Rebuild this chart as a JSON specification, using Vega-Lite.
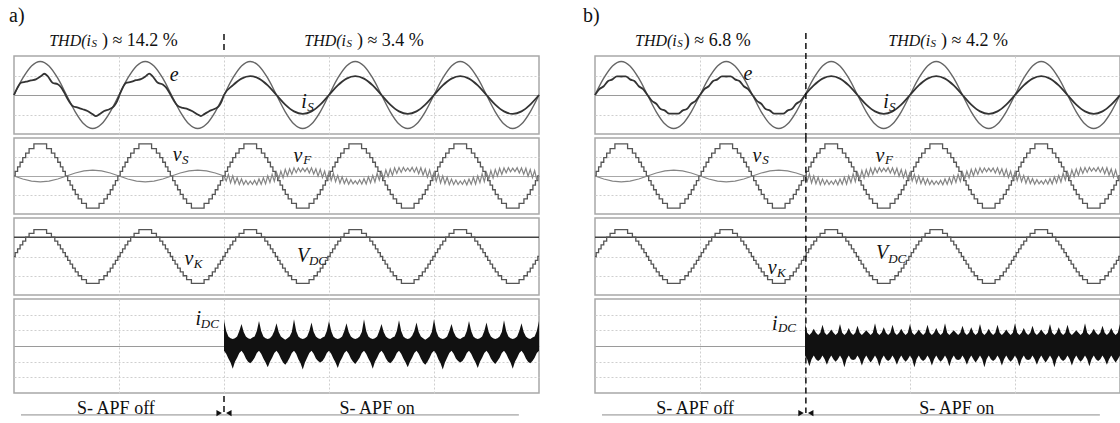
{
"$schema":"https://vega.github.io/schema/vega-lite/v6.json",
"autosize":{"type":"pad"},
"padding":{"left":8,"top":5,"right":0,"bottom":0},
"background":"white",
"spacing":38,
"config":{
 "view":{"stroke":"#a8a8a8","strokeWidth":1.5},
 "axis":{"grid":true,"labels":false,"ticks":false,"domain":false,"gridColor":"#cfcfcf","gridDash":[2,2],"gridWidth":1},
 "text":{"font":"Times New Roman, Liberation Serif, serif","color":"#111111"}
},
"datasets":{
"E":[{"t":0,"v":0},{"t":2,"v":0.86},{"t":4,"v":1.49},{"t":6,"v":1.72},{"t":8,"v":1.49},{"t":10,"v":0.86},{"t":12,"v":0},{"t":14,"v":-0.86},{"t":16,"v":-1.49},{"t":18,"v":-1.72},{"t":20,"v":-1.49},{"t":22,"v":-0.86},
{"t":24,"v":0},{"t":26,"v":0.86},{"t":28,"v":1.49},{"t":30,"v":1.72},{"t":32,"v":1.49},{"t":34,"v":0.86},{"t":36,"v":0},{"t":38,"v":-0.86},{"t":40,"v":-1.49},{"t":42,"v":-1.72},{"t":44,"v":-1.49},{"t":46,"v":-0.86},
{"t":48,"v":0},{"t":50,"v":0.86},{"t":52,"v":1.49},{"t":54,"v":1.72},{"t":56,"v":1.49},{"t":58,"v":0.86},{"t":60,"v":0},{"t":62,"v":-0.86},{"t":64,"v":-1.49},{"t":66,"v":-1.72},{"t":68,"v":-1.49},{"t":70,"v":-0.86},
{"t":72,"v":0},{"t":74,"v":0.86},{"t":76,"v":1.49},{"t":78,"v":1.72},{"t":80,"v":1.49},{"t":82,"v":0.86},{"t":84,"v":0},{"t":86,"v":-0.86},{"t":88,"v":-1.49},{"t":90,"v":-1.72},{"t":92,"v":-1.49},{"t":94,"v":-0.86},
{"t":96,"v":0},{"t":98,"v":0.86},{"t":100,"v":1.49},{"t":102,"v":1.72},{"t":104,"v":1.49},{"t":106,"v":0.86},{"t":108,"v":0},{"t":110,"v":-0.86},{"t":112,"v":-1.49},{"t":114,"v":-1.72},{"t":116,"v":-1.49},{"t":118,"v":-0.86},{"t":120,"v":0}],
"IA":[{"t":0,"v":0},{"t":0.8,"v":0.38},{"t":1.6,"v":0.63},{"t":2.7,"v":0.68},{"t":3.9,"v":0.75},{"t":5,"v":0.8},{"t":6.2,"v":0.97},{"t":6.9,"v":1.09},{"t":7.7,"v":0.97},{"t":8.8,"v":0.63},{"t":10,"v":0.55},{"t":10.7,"v":0.41},{"t":11.5,"v":0.12},{"t":12.3,"v":-0.22},{"t":13.4,"v":-0.56},{"t":14.6,"v":-0.65},{"t":15.7,"v":-0.73},{"t":16.8,"v":-0.82},{"t":18,"v":-0.99},{"t":18.7,"v":-1.08},{"t":19.5,"v":-0.99},{"t":20.6,"v":-0.82},{"t":21.8,"v":-0.73},{"t":22.9,"v":-0.56},{"t":23.6,"v":-0.3},
{"t":24.2,"v":0.05},{"t":24.9,"v":0.4},{"t":25.6,"v":0.62},{"t":26.7,"v":0.67},{"t":27.9,"v":0.76},{"t":29,"v":0.81},{"t":30.2,"v":0.98},{"t":30.9,"v":1.1},{"t":31.7,"v":0.96},{"t":32.8,"v":0.64},{"t":34,"v":0.54},{"t":34.7,"v":0.4},{"t":35.5,"v":0.13},{"t":36.3,"v":-0.2},{"t":37.4,"v":-0.55},{"t":38.6,"v":-0.66},{"t":39.7,"v":-0.72},{"t":40.8,"v":-0.83},{"t":42,"v":-1.0},{"t":42.7,"v":-1.08},{"t":43.5,"v":-0.98},{"t":44.6,"v":-0.83},{"t":45.8,"v":-0.72},{"t":46.9,"v":-0.55},{"t":47.5,"v":-0.3},
{"t":48,"v":0},{"t":50,"v":0.49},{"t":52,"v":0.84},{"t":54,"v":0.97},{"t":56,"v":0.84},{"t":58,"v":0.49},{"t":60,"v":0},{"t":62,"v":-0.49},{"t":64,"v":-0.84},{"t":66,"v":-0.97},{"t":68,"v":-0.84},{"t":70,"v":-0.49},
{"t":72,"v":0},{"t":74,"v":0.49},{"t":76,"v":0.84},{"t":78,"v":0.97},{"t":80,"v":0.84},{"t":82,"v":0.49},{"t":84,"v":0},{"t":86,"v":-0.49},{"t":88,"v":-0.84},{"t":90,"v":-0.97},{"t":92,"v":-0.84},{"t":94,"v":-0.49},
{"t":96,"v":0},{"t":98,"v":0.49},{"t":100,"v":0.84},{"t":102,"v":0.97},{"t":104,"v":0.84},{"t":106,"v":0.49},{"t":108,"v":0},{"t":110,"v":-0.49},{"t":112,"v":-0.84},{"t":114,"v":-0.97},{"t":116,"v":-0.84},{"t":118,"v":-0.49},{"t":120,"v":0}],
"IB":[{"t":0,"v":0},{"t":1,"v":0.3},{"t":2,"v":0.45},{"t":3,"v":0.72},{"t":4,"v":0.8},{"t":5,"v":0.96},{"t":6,"v":0.95},{"t":7,"v":0.96},{"t":8,"v":0.8},{"t":9,"v":0.72},{"t":10,"v":0.45},{"t":11,"v":0.3},{"t":12,"v":0},{"t":13,"v":-0.3},{"t":14,"v":-0.45},{"t":15,"v":-0.72},{"t":16,"v":-0.8},{"t":17,"v":-0.96},{"t":18,"v":-0.95},{"t":19,"v":-0.96},{"t":20,"v":-0.8},{"t":21,"v":-0.72},{"t":22,"v":-0.45},{"t":23,"v":-0.3},
{"t":24,"v":0},{"t":25,"v":0.3},{"t":26,"v":0.45},{"t":27,"v":0.72},{"t":28,"v":0.8},{"t":29,"v":0.96},{"t":30,"v":0.95},{"t":31,"v":0.96},{"t":32,"v":0.8},{"t":33,"v":0.72},{"t":34,"v":0.45},{"t":35,"v":0.3},{"t":36,"v":0},{"t":37,"v":-0.3},{"t":38,"v":-0.45},{"t":39,"v":-0.72},{"t":40,"v":-0.8},{"t":41,"v":-0.96},{"t":42,"v":-0.95},{"t":43,"v":-0.96},{"t":44,"v":-0.8},{"t":45,"v":-0.72},{"t":46,"v":-0.45},{"t":47,"v":-0.3},
{"t":48,"v":0},{"t":50,"v":0.49},{"t":52,"v":0.84},{"t":54,"v":0.97},{"t":56,"v":0.84},{"t":58,"v":0.49},{"t":60,"v":0},{"t":62,"v":-0.49},{"t":64,"v":-0.84},{"t":66,"v":-0.97},{"t":68,"v":-0.84},{"t":70,"v":-0.49},
{"t":72,"v":0},{"t":74,"v":0.49},{"t":76,"v":0.84},{"t":78,"v":0.97},{"t":80,"v":0.84},{"t":82,"v":0.49},{"t":84,"v":0},{"t":86,"v":-0.49},{"t":88,"v":-0.84},{"t":90,"v":-0.97},{"t":92,"v":-0.84},{"t":94,"v":-0.49},
{"t":96,"v":0},{"t":98,"v":0.49},{"t":100,"v":0.84},{"t":102,"v":0.97},{"t":104,"v":0.84},{"t":106,"v":0.49},{"t":108,"v":0},{"t":110,"v":-0.49},{"t":112,"v":-0.84},{"t":114,"v":-0.97},{"t":116,"v":-0.84},{"t":118,"v":-0.49},{"t":120,"v":0}],
"K":[{"t":0,"v":0},{"t":0.27,"v":1},{"t":0.82,"v":2},{"t":1.39,"v":3},{"t":2,"v":4},{"t":2.67,"v":5},{"t":3.45,"v":6},{"t":4.55,"v":7},{"t":7.45,"v":6},{"t":8.55,"v":5},{"t":9.33,"v":4},{"t":10,"v":3},{"t":10.61,"v":2},{"t":11.18,"v":1},{"t":11.73,"v":0},{"t":12.27,"v":-1},{"t":12.82,"v":-2},{"t":13.39,"v":-3},{"t":14,"v":-4},{"t":14.67,"v":-5},{"t":15.45,"v":-6},{"t":16.55,"v":-7},{"t":19.45,"v":-6},{"t":20.55,"v":-5},{"t":21.33,"v":-4},{"t":22,"v":-3},{"t":22.61,"v":-2},{"t":23.18,"v":-1},{"t":23.73,"v":0},
{"t":24.27,"v":1},{"t":24.82,"v":2},{"t":25.39,"v":3},{"t":26,"v":4},{"t":26.67,"v":5},{"t":27.45,"v":6},{"t":28.55,"v":7},{"t":31.45,"v":6},{"t":32.55,"v":5},{"t":33.33,"v":4},{"t":34,"v":3},{"t":34.61,"v":2},{"t":35.18,"v":1},{"t":35.73,"v":0},{"t":36.27,"v":-1},{"t":36.82,"v":-2},{"t":37.39,"v":-3},{"t":38,"v":-4},{"t":38.67,"v":-5},{"t":39.45,"v":-6},{"t":40.55,"v":-7},{"t":43.45,"v":-6},{"t":44.55,"v":-5},{"t":45.33,"v":-4},{"t":46,"v":-3},{"t":46.61,"v":-2},{"t":47.18,"v":-1},{"t":47.73,"v":0},
{"t":48.27,"v":1},{"t":48.82,"v":2},{"t":49.39,"v":3},{"t":50,"v":4},{"t":50.67,"v":5},{"t":51.45,"v":6},{"t":52.55,"v":7},{"t":55.45,"v":6},{"t":56.55,"v":5},{"t":57.33,"v":4},{"t":58,"v":3},{"t":58.61,"v":2},{"t":59.18,"v":1},{"t":59.73,"v":0},{"t":60.27,"v":-1},{"t":60.82,"v":-2},{"t":61.39,"v":-3},{"t":62,"v":-4},{"t":62.67,"v":-5},{"t":63.45,"v":-6},{"t":64.55,"v":-7},{"t":67.45,"v":-6},{"t":68.55,"v":-5},{"t":69.33,"v":-4},{"t":70,"v":-3},{"t":70.61,"v":-2},{"t":71.18,"v":-1},{"t":71.73,"v":0},
{"t":72.27,"v":1},{"t":72.82,"v":2},{"t":73.39,"v":3},{"t":74,"v":4},{"t":74.67,"v":5},{"t":75.45,"v":6},{"t":76.55,"v":7},{"t":79.45,"v":6},{"t":80.55,"v":5},{"t":81.33,"v":4},{"t":82,"v":3},{"t":82.61,"v":2},{"t":83.18,"v":1},{"t":83.73,"v":0},{"t":84.27,"v":-1},{"t":84.82,"v":-2},{"t":85.39,"v":-3},{"t":86,"v":-4},{"t":86.67,"v":-5},{"t":87.45,"v":-6},{"t":88.55,"v":-7},{"t":91.45,"v":-6},{"t":92.55,"v":-5},{"t":93.33,"v":-4},{"t":94,"v":-3},{"t":94.61,"v":-2},{"t":95.18,"v":-1},{"t":95.73,"v":0},
{"t":96.27,"v":1},{"t":96.82,"v":2},{"t":97.39,"v":3},{"t":98,"v":4},{"t":98.67,"v":5},{"t":99.45,"v":6},{"t":100.55,"v":7},{"t":103.45,"v":6},{"t":104.55,"v":5},{"t":105.33,"v":4},{"t":106,"v":3},{"t":106.61,"v":2},{"t":107.18,"v":1},{"t":107.73,"v":0},{"t":108.27,"v":-1},{"t":108.82,"v":-2},{"t":109.39,"v":-3},{"t":110,"v":-4},{"t":110.67,"v":-5},{"t":111.45,"v":-6},{"t":112.55,"v":-7},{"t":115.45,"v":-6},{"t":116.55,"v":-5},{"t":117.33,"v":-4},{"t":118,"v":-3},{"t":118.61,"v":-2},{"t":119.18,"v":-1},{"t":119.73,"v":0},{"t":120,"v":0}],
"VD":[{"t":0,"v":5},{"t":120,"v":5}],
"SA":[{"t":0,"v":0},{"t":2,"v":-0.65},{"t":4,"v":-1.13},{"t":6,"v":-1.3},{"t":8,"v":-1.13},{"t":10,"v":-0.65},{"t":12,"v":0},{"t":14,"v":0.65},{"t":16,"v":1.13},{"t":18,"v":1.3},{"t":20,"v":1.13},{"t":22,"v":0.65},{"t":24,"v":0},{"t":26,"v":-0.65},{"t":28,"v":-1.13},{"t":30,"v":-1.3},{"t":32,"v":-1.13},{"t":34,"v":-0.65},{"t":36,"v":0},{"t":38,"v":0.65},{"t":40,"v":1.13},{"t":42,"v":1.3},{"t":44,"v":1.13},{"t":46,"v":0.65},{"t":48,"v":0},
{"t":48.5,"v":-1.08},{"t":49,"v":0.34},{"t":49.5,"v":-1.49},{"t":50,"v":0.05},{"t":50.5,"v":-1.64},{"t":51,"v":-0.4},{"t":51.5,"v":-1.86},{"t":52,"v":-0.64},{"t":52.5,"v":-1.85},{"t":53,"v":-0.96},{"t":53.5,"v":-1.85},{"t":54,"v":-1.09},{"t":54.5,"v":-1.81},{"t":55,"v":-0.96},{"t":55.5,"v":-1.91},{"t":56,"v":-0.64},{"t":56.5,"v":-1.79},{"t":57,"v":-0.4},{"t":57.5,"v":-1.72},{"t":58,"v":0.05},{"t":58.5,"v":-1.4},{"t":59,"v":0.34},{"t":59.5,"v":-1.17},{"t":60,"v":0.81},{"t":60.5,"v":-0.72},{"t":61,"v":1.06},{"t":61.5,"v":-0.41},{"t":62,"v":1.45},{"t":62.5,"v":0.06},{"t":63,"v":1.58},{"t":63.5,"v":0.36},{"t":64,"v":1.78},{"t":64.5,"v":0.73},{"t":65,"v":1.74},{"t":65.5,"v":0.93},{"t":66,"v":1.72},{"t":66.5,"v":0.97},{"t":67,"v":1.74},{"t":67.5,"v":0.67},{"t":68,"v":1.78},{"t":68.5,"v":0.43},{"t":69,"v":1.58},{"t":69.5,"v":-0.02},{"t":70,"v":1.45},{"t":70.5,"v":-0.32},{"t":71,"v":1.06},{"t":71.5,"v":-0.81},
{"t":72,"v":0.9},{"t":72.5,"v":-0.99},{"t":73,"v":0.61},{"t":73.5,"v":-1.23},{"t":74,"v":0.13},{"t":74.5,"v":-1.56},{"t":75,"v":-0.18},{"t":75.5,"v":-1.65},{"t":76,"v":-0.58},{"t":76.5,"v":-1.79},{"t":77,"v":-0.81},{"t":77.5,"v":-1.73},{"t":78,"v":-1.05},{"t":78.5,"v":-1.77},{"t":79,"v":-0.81},{"t":79.5,"v":-1.74},{"t":80,"v":-0.58},{"t":80.5,"v":-1.72},{"t":81,"v":-0.18},{"t":81.5,"v":-1.48},{"t":82,"v":0.13},{"t":82.5,"v":-1.31},{"t":83,"v":0.61},{"t":83.5,"v":-0.9},{"t":84,"v":0.9},{"t":84.5,"v":-0.63},{"t":85,"v":1.33},{"t":85.5,"v":-0.15},{"t":86,"v":1.53},{"t":86.5,"v":0.14},{"t":87,"v":1.8},{"t":87.5,"v":0.57},{"t":88,"v":1.84},{"t":88.5,"v":0.79},{"t":89,"v":1.89},{"t":89.5,"v":1.05},{"t":90,"v":1.75},{"t":90.5,"v":1.01},{"t":91,"v":1.89},{"t":91.5,"v":0.84},{"t":92,"v":1.84},{"t":92.5,"v":0.5},{"t":93,"v":1.8},{"t":93.5,"v":0.22},{"t":94,"v":1.53},{"t":94.5,"v":-0.23},{"t":95,"v":1.33},{"t":95.5,"v":-0.54},
{"t":96,"v":0.77},{"t":96.5,"v":-1.13},{"t":97,"v":0.48},{"t":97.5,"v":-1.53},{"t":98,"v":0.01},{"t":98.5,"v":-1.68},{"t":99,"v":-0.29},{"t":99.5,"v":-1.89},{"t":100,"v":-0.67},{"t":100.5,"v":-1.88},{"t":101,"v":-0.88},{"t":101.5,"v":-1.87},{"t":102,"v":-1.1},{"t":102.5,"v":-1.83},{"t":103,"v":-0.88},{"t":103.5,"v":-1.93},{"t":104,"v":-0.67},{"t":104.5,"v":-1.82},{"t":105,"v":-0.29},{"t":105.5,"v":-1.76},{"t":106,"v":0.01},{"t":106.5,"v":-1.44},{"t":107,"v":0.48},{"t":107.5,"v":-1.22},{"t":108,"v":0.77},{"t":108.5,"v":-0.77},{"t":109,"v":1.2},{"t":109.5,"v":-0.45},{"t":110,"v":1.41},{"t":110.5,"v":0.02},{"t":111,"v":1.69},{"t":111.5,"v":0.33},{"t":112,"v":1.75},{"t":112.5,"v":0.7},{"t":113,"v":1.82},{"t":113.5,"v":0.91},{"t":114,"v":1.7},{"t":114.5,"v":0.95},{"t":115,"v":1.82},{"t":115.5,"v":0.65},{"t":116,"v":1.75},{"t":116.5,"v":0.4},{"t":117,"v":1.69},{"t":117.5,"v":-0.06},{"t":118,"v":1.41},{"t":118.5,"v":-0.36},{"t":119,"v":1.2},{"t":119.5,"v":-0.86},{"t":120,"v":0}],
"SB":[{"t":0,"v":0},{"t":2,"v":-0.65},{"t":4,"v":-1.13},{"t":6,"v":-1.3},{"t":8,"v":-1.13},{"t":10,"v":-0.65},{"t":12,"v":0},{"t":14,"v":0.65},{"t":16,"v":1.13},{"t":18,"v":1.3},{"t":20,"v":1.13},{"t":22,"v":0.65},{"t":24,"v":0},{"t":26,"v":-0.65},{"t":28,"v":-1.13},{"t":30,"v":-1.3},{"t":32,"v":-1.13},{"t":34,"v":-0.65},{"t":36,"v":0},{"t":38,"v":0.65},{"t":40,"v":1.13},{"t":42,"v":1.3},{"t":44,"v":1.13},{"t":46,"v":0.65},{"t":48,"v":0},
{"t":48.5,"v":-1.13},{"t":49,"v":0.48},{"t":49.5,"v":-1.53},{"t":50,"v":0.01},{"t":50.5,"v":-1.68},{"t":51,"v":-0.29},{"t":51.5,"v":-1.89},{"t":52,"v":-0.67},{"t":52.5,"v":-1.88},{"t":53,"v":-0.88},{"t":53.5,"v":-1.87},{"t":54,"v":-1.1},{"t":54.5,"v":-1.83},{"t":55,"v":-0.88},{"t":55.5,"v":-1.93},{"t":56,"v":-0.67},{"t":56.5,"v":-1.82},{"t":57,"v":-0.29},{"t":57.5,"v":-1.76},{"t":58,"v":0.01},{"t":58.5,"v":-1.44},{"t":59,"v":0.48},{"t":59.5,"v":-1.22},{"t":60,"v":0.77},{"t":60.5,"v":-0.77},{"t":61,"v":1.2},{"t":61.5,"v":-0.45},{"t":62,"v":1.41},{"t":62.5,"v":0.02},{"t":63,"v":1.69},{"t":63.5,"v":0.33},{"t":64,"v":1.75},{"t":64.5,"v":0.7},{"t":65,"v":1.82},{"t":65.5,"v":0.91},{"t":66,"v":1.7},{"t":66.5,"v":0.95},{"t":67,"v":1.82},{"t":67.5,"v":0.65},{"t":68,"v":1.75},{"t":68.5,"v":0.4},{"t":69,"v":1.69},{"t":69.5,"v":-0.06},{"t":70,"v":1.41},{"t":70.5,"v":-0.36},{"t":71,"v":1.2},{"t":71.5,"v":-0.86},
{"t":72,"v":0.9},{"t":72.5,"v":-1.08},{"t":73,"v":0.34},{"t":73.5,"v":-1.49},{"t":74,"v":0.05},{"t":74.5,"v":-1.64},{"t":75,"v":-0.4},{"t":75.5,"v":-1.86},{"t":76,"v":-0.64},{"t":76.5,"v":-1.85},{"t":77,"v":-0.96},{"t":77.5,"v":-1.85},{"t":78,"v":-1.09},{"t":78.5,"v":-1.81},{"t":79,"v":-0.96},{"t":79.5,"v":-1.91},{"t":80,"v":-0.64},{"t":80.5,"v":-1.79},{"t":81,"v":-0.4},{"t":81.5,"v":-1.72},{"t":82,"v":0.05},{"t":82.5,"v":-1.4},{"t":83,"v":0.34},{"t":83.5,"v":-1.17},{"t":84,"v":0.81},{"t":84.5,"v":-0.72},{"t":85,"v":1.06},{"t":85.5,"v":-0.41},{"t":86,"v":1.45},{"t":86.5,"v":0.06},{"t":87,"v":1.58},{"t":87.5,"v":0.36},{"t":88,"v":1.78},{"t":88.5,"v":0.73},{"t":89,"v":1.74},{"t":89.5,"v":0.93},{"t":90,"v":1.72},{"t":90.5,"v":0.97},{"t":91,"v":1.74},{"t":91.5,"v":0.67},{"t":92,"v":1.78},{"t":92.5,"v":0.43},{"t":93,"v":1.58},{"t":93.5,"v":-0.02},{"t":94,"v":1.45},{"t":94.5,"v":-0.32},{"t":95,"v":1.06},{"t":95.5,"v":-0.81},
{"t":96,"v":0.9},{"t":96.5,"v":-0.99},{"t":97,"v":0.61},{"t":97.5,"v":-1.23},{"t":98,"v":0.13},{"t":98.5,"v":-1.56},{"t":99,"v":-0.18},{"t":99.5,"v":-1.65},{"t":100,"v":-0.58},{"t":100.5,"v":-1.79},{"t":101,"v":-0.81},{"t":101.5,"v":-1.73},{"t":102,"v":-1.05},{"t":102.5,"v":-1.77},{"t":103,"v":-0.81},{"t":103.5,"v":-1.74},{"t":104,"v":-0.58},{"t":104.5,"v":-1.72},{"t":105,"v":-0.18},{"t":105.5,"v":-1.48},{"t":106,"v":0.13},{"t":106.5,"v":-1.31},{"t":107,"v":0.61},{"t":107.5,"v":-0.9},{"t":108,"v":0.9},{"t":108.5,"v":-0.63},{"t":109,"v":1.33},{"t":109.5,"v":-0.15},{"t":110,"v":1.53},{"t":110.5,"v":0.14},{"t":111,"v":1.8},{"t":111.5,"v":0.57},{"t":112,"v":1.84},{"t":112.5,"v":0.79},{"t":113,"v":1.89},{"t":113.5,"v":1.05},{"t":114,"v":1.75},{"t":114.5,"v":1.01},{"t":115,"v":1.89},{"t":115.5,"v":0.84},{"t":116,"v":1.84},{"t":116.5,"v":0.5},{"t":117,"v":1.8},{"t":117.5,"v":0.22},{"t":118,"v":1.53},{"t":118.5,"v":-0.23},{"t":119,"v":1.33},{"t":119.5,"v":-0.54},{"t":120,"v":0}],
"IDA":[{"t":48,"v":1.65,"l":-0.3},{"t":48.5,"v":0.95,"l":-0.5},{"t":49,"v":0.6,"l":-0.8},{"t":49.5,"v":0.5,"l":-1.05},{"t":50,"v":0.45,"l":-1.45},{"t":50.5,"v":0.5,"l":-1.0},{"t":51,"v":0.6,"l":-0.75},{"t":51.5,"v":0.95,"l":-0.45},
{"t":52,"v":1.4,"l":-0.3},{"t":52.5,"v":0.9,"l":-0.5},{"t":53,"v":0.6,"l":-0.8},{"t":53.5,"v":0.5,"l":-1.0},{"t":54,"v":0.45,"l":-1.1},{"t":54.5,"v":0.55,"l":-0.95},{"t":55,"v":0.6,"l":-0.75},{"t":55.5,"v":0.95,"l":-0.45},
{"t":56,"v":1.6,"l":-0.3},{"t":56.5,"v":0.95,"l":-0.5},{"t":57,"v":0.6,"l":-0.8},{"t":57.5,"v":0.5,"l":-1.05},{"t":58,"v":0.45,"l":-1.35},{"t":58.5,"v":0.5,"l":-1.0},{"t":59,"v":0.65,"l":-0.75},{"t":59.5,"v":0.95,"l":-0.45},
{"t":60,"v":1.45,"l":-0.3},{"t":60.5,"v":0.9,"l":-0.5},{"t":61,"v":0.6,"l":-0.8},{"t":61.5,"v":0.5,"l":-1.05},{"t":62,"v":0.4,"l":-1.2},{"t":62.5,"v":0.5,"l":-1.0},{"t":63,"v":0.6,"l":-0.75},{"t":63.5,"v":0.9,"l":-0.45},
{"t":64,"v":1.7,"l":-0.3},{"t":64.5,"v":0.95,"l":-0.5},{"t":65,"v":0.6,"l":-0.85},{"t":65.5,"v":0.5,"l":-1.1},{"t":66,"v":0.45,"l":-1.5},{"t":66.5,"v":0.5,"l":-1.05},{"t":67,"v":0.6,"l":-0.75},{"t":67.5,"v":0.95,"l":-0.45},
{"t":68,"v":1.5,"l":-0.3},{"t":68.5,"v":0.9,"l":-0.5},{"t":69,"v":0.6,"l":-0.8},{"t":69.5,"v":0.5,"l":-0.95},{"t":70,"v":0.45,"l":-1.05},{"t":70.5,"v":0.55,"l":-0.95},{"t":71,"v":0.6,"l":-0.75},{"t":71.5,"v":0.95,"l":-0.45},
{"t":72,"v":1.6,"l":-0.3},{"t":72.5,"v":0.95,"l":-0.5},{"t":73,"v":0.6,"l":-0.8},{"t":73.5,"v":0.5,"l":-1.05},{"t":74,"v":0.45,"l":-1.4},{"t":74.5,"v":0.5,"l":-1.0},{"t":75,"v":0.6,"l":-0.75},{"t":75.5,"v":0.95,"l":-0.45},
{"t":76,"v":1.45,"l":-0.3},{"t":76.5,"v":0.9,"l":-0.5},{"t":77,"v":0.6,"l":-0.8},{"t":77.5,"v":0.5,"l":-1.0},{"t":78,"v":0.45,"l":-1.15},{"t":78.5,"v":0.5,"l":-0.95},{"t":79,"v":0.6,"l":-0.75},{"t":79.5,"v":0.9,"l":-0.45},
{"t":80,"v":1.7,"l":-0.3},{"t":80.5,"v":0.95,"l":-0.5},{"t":81,"v":0.6,"l":-0.8},{"t":81.5,"v":0.5,"l":-1.05},{"t":82,"v":0.45,"l":-1.45},{"t":82.5,"v":0.5,"l":-1.0},{"t":83,"v":0.6,"l":-0.75},{"t":83.5,"v":0.95,"l":-0.45},
{"t":84,"v":1.4,"l":-0.3},{"t":84.5,"v":0.9,"l":-0.5},{"t":85,"v":0.6,"l":-0.8},{"t":85.5,"v":0.5,"l":-1.0},{"t":86,"v":0.45,"l":-1.1},{"t":86.5,"v":0.55,"l":-0.95},{"t":87,"v":0.6,"l":-0.75},{"t":87.5,"v":0.95,"l":-0.45},
{"t":88,"v":1.65,"l":-0.3},{"t":88.5,"v":0.95,"l":-0.5},{"t":89,"v":0.6,"l":-0.8},{"t":89.5,"v":0.5,"l":-1.05},{"t":90,"v":0.45,"l":-1.35},{"t":90.5,"v":0.5,"l":-1.0},{"t":91,"v":0.65,"l":-0.75},{"t":91.5,"v":0.95,"l":-0.45},
{"t":92,"v":1.5,"l":-0.3},{"t":92.5,"v":0.9,"l":-0.5},{"t":93,"v":0.6,"l":-0.8},{"t":93.5,"v":0.5,"l":-1.05},{"t":94,"v":0.4,"l":-1.2},{"t":94.5,"v":0.5,"l":-1.0},{"t":95,"v":0.6,"l":-0.75},{"t":95.5,"v":0.9,"l":-0.45},
{"t":96,"v":1.7,"l":-0.3},{"t":96.5,"v":0.95,"l":-0.5},{"t":97,"v":0.6,"l":-0.85},{"t":97.5,"v":0.5,"l":-1.1},{"t":98,"v":0.45,"l":-1.5},{"t":98.5,"v":0.5,"l":-1.05},{"t":99,"v":0.6,"l":-0.75},{"t":99.5,"v":0.95,"l":-0.45},
{"t":100,"v":1.4,"l":-0.3},{"t":100.5,"v":0.9,"l":-0.5},{"t":101,"v":0.6,"l":-0.8},{"t":101.5,"v":0.5,"l":-0.95},{"t":102,"v":0.45,"l":-1.05},{"t":102.5,"v":0.55,"l":-0.95},{"t":103,"v":0.6,"l":-0.75},{"t":103.5,"v":0.95,"l":-0.45},
{"t":104,"v":1.6,"l":-0.3},{"t":104.5,"v":0.95,"l":-0.5},{"t":105,"v":0.6,"l":-0.8},{"t":105.5,"v":0.5,"l":-1.05},{"t":106,"v":0.45,"l":-1.4},{"t":106.5,"v":0.5,"l":-1.0},{"t":107,"v":0.6,"l":-0.75},{"t":107.5,"v":0.95,"l":-0.45},
{"t":108,"v":1.5,"l":-0.3},{"t":108.5,"v":0.9,"l":-0.5},{"t":109,"v":0.6,"l":-0.8},{"t":109.5,"v":0.5,"l":-1.0},{"t":110,"v":0.45,"l":-1.15},{"t":110.5,"v":0.5,"l":-0.95},{"t":111,"v":0.6,"l":-0.75},{"t":111.5,"v":0.9,"l":-0.45},
{"t":112,"v":1.65,"l":-0.3},{"t":112.5,"v":0.95,"l":-0.5},{"t":113,"v":0.6,"l":-0.8},{"t":113.5,"v":0.5,"l":-1.05},{"t":114,"v":0.45,"l":-1.45},{"t":114.5,"v":0.5,"l":-1.0},{"t":115,"v":0.6,"l":-0.75},{"t":115.5,"v":0.95,"l":-0.45},
{"t":116,"v":1.45,"l":-0.3},{"t":116.5,"v":0.9,"l":-0.5},{"t":117,"v":0.6,"l":-0.8},{"t":117.5,"v":0.5,"l":-1.0},{"t":118,"v":0.45,"l":-1.1},{"t":118.5,"v":0.55,"l":-0.95},{"t":119,"v":0.6,"l":-0.75},{"t":119.5,"v":0.95,"l":-0.45},{"t":120,"v":1.6,"l":-0.3}],
"IDB":[{"t":48,"v":1.45,"l":-0.6},{"t":48.5,"v":0.85,"l":-0.85},{"t":49,"v":0.7,"l":-1.3},{"t":49.5,"v":0.85,"l":-0.85},
{"t":50,"v":1.1,"l":-0.6},{"t":50.5,"v":0.85,"l":-0.85},{"t":51,"v":0.7,"l":-0.95},{"t":51.5,"v":0.85,"l":-0.85},
{"t":52,"v":1.35,"l":-0.6},{"t":52.5,"v":0.85,"l":-0.85},{"t":53,"v":0.7,"l":-1.2},{"t":53.5,"v":0.85,"l":-0.85},
{"t":54,"v":1.05,"l":-0.6},{"t":54.5,"v":0.85,"l":-0.85},{"t":55,"v":0.7,"l":-1.0},{"t":55.5,"v":0.85,"l":-0.85},
{"t":56,"v":1.4,"l":-0.6},{"t":56.5,"v":0.85,"l":-0.85},{"t":57,"v":0.7,"l":-1.35},{"t":57.5,"v":0.85,"l":-0.85},
{"t":58,"v":1.15,"l":-0.6},{"t":58.5,"v":0.85,"l":-0.85},{"t":59,"v":0.7,"l":-0.9},{"t":59.5,"v":0.85,"l":-0.85},
{"t":60,"v":1.3,"l":-0.6},{"t":60.5,"v":0.85,"l":-0.85},{"t":61,"v":0.7,"l":-1.25},{"t":61.5,"v":0.85,"l":-0.85},
{"t":62,"v":1.0,"l":-0.6},{"t":62.5,"v":0.85,"l":-0.85},{"t":63,"v":0.7,"l":-1.05},{"t":63.5,"v":0.85,"l":-0.85},
{"t":64,"v":1.45,"l":-0.6},{"t":64.5,"v":0.85,"l":-0.85},{"t":65,"v":0.7,"l":-1.3},{"t":65.5,"v":0.85,"l":-0.85},
{"t":66,"v":1.2,"l":-0.6},{"t":66.5,"v":0.85,"l":-0.85},{"t":67,"v":0.7,"l":-0.95},{"t":67.5,"v":0.85,"l":-0.85},
{"t":68,"v":1.35,"l":-0.6},{"t":68.5,"v":0.85,"l":-0.85},{"t":69,"v":0.7,"l":-1.2},{"t":69.5,"v":0.85,"l":-0.85},
{"t":70,"v":1.1,"l":-0.6},{"t":70.5,"v":0.85,"l":-0.85},{"t":71,"v":0.7,"l":-1.0},{"t":71.5,"v":0.85,"l":-0.85},
{"t":72,"v":1.4,"l":-0.6},{"t":72.5,"v":0.85,"l":-0.85},{"t":73,"v":0.7,"l":-1.35},{"t":73.5,"v":0.85,"l":-0.85},
{"t":74,"v":1.05,"l":-0.6},{"t":74.5,"v":0.85,"l":-0.85},{"t":75,"v":0.7,"l":-0.95},{"t":75.5,"v":0.85,"l":-0.85},
{"t":76,"v":1.35,"l":-0.6},{"t":76.5,"v":0.85,"l":-0.85},{"t":77,"v":0.7,"l":-1.25},{"t":77.5,"v":0.85,"l":-0.85},
{"t":78,"v":1.15,"l":-0.6},{"t":78.5,"v":0.85,"l":-0.85},{"t":79,"v":0.7,"l":-1.0},{"t":79.5,"v":0.85,"l":-0.85},
{"t":80,"v":1.45,"l":-0.6},{"t":80.5,"v":0.85,"l":-0.85},{"t":81,"v":0.7,"l":-1.3},{"t":81.5,"v":0.85,"l":-0.85},
{"t":82,"v":1.0,"l":-0.6},{"t":82.5,"v":0.85,"l":-0.85},{"t":83,"v":0.7,"l":-0.9},{"t":83.5,"v":0.85,"l":-0.85},
{"t":84,"v":1.3,"l":-0.6},{"t":84.5,"v":0.85,"l":-0.85},{"t":85,"v":0.7,"l":-1.2},{"t":85.5,"v":0.85,"l":-0.85},
{"t":86,"v":1.2,"l":-0.6},{"t":86.5,"v":0.85,"l":-0.85},{"t":87,"v":0.7,"l":-1.05},{"t":87.5,"v":0.85,"l":-0.85},
{"t":88,"v":1.4,"l":-0.6},{"t":88.5,"v":0.85,"l":-0.85},{"t":89,"v":0.7,"l":-1.35},{"t":89.5,"v":0.85,"l":-0.85},
{"t":90,"v":1.1,"l":-0.6},{"t":90.5,"v":0.85,"l":-0.85},{"t":91,"v":0.7,"l":-0.95},{"t":91.5,"v":0.85,"l":-0.85},
{"t":92,"v":1.35,"l":-0.6},{"t":92.5,"v":0.85,"l":-0.85},{"t":93,"v":0.7,"l":-1.25},{"t":93.5,"v":0.85,"l":-0.85},
{"t":94,"v":1.05,"l":-0.6},{"t":94.5,"v":0.85,"l":-0.85},{"t":95,"v":0.7,"l":-1.0},{"t":95.5,"v":0.85,"l":-0.85},
{"t":96,"v":1.45,"l":-0.6},{"t":96.5,"v":0.85,"l":-0.85},{"t":97,"v":0.7,"l":-1.3},{"t":97.5,"v":0.85,"l":-0.85},
{"t":98,"v":1.15,"l":-0.6},{"t":98.5,"v":0.85,"l":-0.85},{"t":99,"v":0.7,"l":-0.9},{"t":99.5,"v":0.85,"l":-0.85},
{"t":100,"v":1.3,"l":-0.6},{"t":100.5,"v":0.85,"l":-0.85},{"t":101,"v":0.7,"l":-1.2},{"t":101.5,"v":0.85,"l":-0.85},
{"t":102,"v":1.05,"l":-0.6},{"t":102.5,"v":0.85,"l":-0.85},{"t":103,"v":0.7,"l":-1.05},{"t":103.5,"v":0.85,"l":-0.85},
{"t":104,"v":1.4,"l":-0.6},{"t":104.5,"v":0.85,"l":-0.85},{"t":105,"v":0.7,"l":-1.35},{"t":105.5,"v":0.85,"l":-0.85},
{"t":106,"v":1.2,"l":-0.6},{"t":106.5,"v":0.85,"l":-0.85},{"t":107,"v":0.7,"l":-0.95},{"t":107.5,"v":0.85,"l":-0.85},
{"t":108,"v":1.35,"l":-0.6},{"t":108.5,"v":0.85,"l":-0.85},{"t":109,"v":0.7,"l":-1.25},{"t":109.5,"v":0.85,"l":-0.85},
{"t":110,"v":1.0,"l":-0.6},{"t":110.5,"v":0.85,"l":-0.85},{"t":111,"v":0.7,"l":-1.0},{"t":111.5,"v":0.85,"l":-0.85},
{"t":112,"v":1.45,"l":-0.6},{"t":112.5,"v":0.85,"l":-0.85},{"t":113,"v":0.7,"l":-1.3},{"t":113.5,"v":0.85,"l":-0.85},
{"t":114,"v":1.1,"l":-0.6},{"t":114.5,"v":0.85,"l":-0.85},{"t":115,"v":0.7,"l":-0.95},{"t":115.5,"v":0.85,"l":-0.85},
{"t":116,"v":1.3,"l":-0.6},{"t":116.5,"v":0.85,"l":-0.85},{"t":117,"v":0.7,"l":-1.2},{"t":117.5,"v":0.85,"l":-0.85},
{"t":118,"v":1.15,"l":-0.6},{"t":118.5,"v":0.85,"l":-0.85},{"t":119,"v":0.7,"l":-1.05},{"t":119.5,"v":0.85,"l":-0.85},{"t":120,"v":1.4,"l":-0.6}],
"D1a":[{"t":48,"v":3.13,"v2":2.15}],
"D4a":[{"t":48,"v":-3.19,"v2":-4.28}],
"D1b":[{"t":48.2,"v":3.18,"v2":-2.15}],
"D2b":[{"t":48.2,"v":8.6,"v2":-8.6}],
"D3b":[{"t":48.2,"v":10.6,"v2":-10.6}],
"D4b":[{"t":48.2,"v":3.1,"v2":-4.28}],
"LN":[{"t":1.6,"t2":115.4,"v":-4.4}],
"ARa":[{"t":46.9,"v":-4.28,"d":"r"},{"t":49.1,"v":-4.28,"d":"l"}],
"ARb":[{"t":47.1,"v":-4.28,"d":"r"},{"t":49.3,"v":-4.28,"d":"l"}],
"T1a":[{"t":-1.14,"v":4.05,"k":"h","s":"a)"},{"t":17.6,"v":2.77,"k":"r","s":"THD(i"},{"t":17.7,"v":2.6,"k":"b","s":"S"},{"t":20.1,"v":2.77,"k":"u","s":") ≈ 14.2 %"},{"t":75.9,"v":2.77,"k":"r","s":"THD(i"},{"t":76.0,"v":2.6,"k":"b","s":"S"},{"t":78.4,"v":2.77,"k":"u","s":") ≈ 3.4 %"},{"t":36.6,"v":1.03,"k":"m","s":"e"},{"t":66.3,"v":-0.36,"k":"m","s":"i"},{"t":67.0,"v":-0.62,"k":"s","s":"S"}],
"T1b":[{"t":-2.74,"v":4.05,"k":"h","s":"b)"},{"t":18.7,"v":2.77,"k":"r","s":"THD(i"},{"t":18.8,"v":2.6,"k":"b","s":"S"},{"t":20.3,"v":2.77,"k":"u","s":") ≈ 6.8 %"},{"t":76.6,"v":2.77,"k":"r","s":"THD(i"},{"t":76.7,"v":2.6,"k":"b","s":"S"},{"t":79.1,"v":2.77,"k":"u","s":") ≈ 4.2 %"},{"t":34.97,"v":1.08,"k":"m","s":"e"},{"t":66.5,"v":-0.36,"k":"m","s":"i"},{"t":67.2,"v":-0.62,"k":"s","s":"S"}],
"T2a":[{"t":37.3,"v":4.59,"k":"m","s":"v"},{"t":38.4,"v":3.5,"k":"s","s":"S"},{"t":64.9,"v":4.37,"k":"m","s":"v"},{"t":66.1,"v":3.5,"k":"s","s":"F"}],
"T2b":[{"t":37.0,"v":4.37,"k":"m","s":"v"},{"t":38.2,"v":3.5,"k":"s","s":"S"},{"t":65.1,"v":4.37,"k":"m","s":"v"},{"t":66.3,"v":3.5,"k":"s","s":"F"}],
"T3a":[{"t":40.0,"v":-0.65,"k":"m","s":"v"},{"t":41.1,"v":-1.95,"k":"s","s":"K"},{"t":66.1,"v":0.13,"k":"m","s":"V"},{"t":67.4,"v":-1.17,"k":"s","s":"DC"}],
"T3b":[{"t":40.5,"v":-2.99,"k":"m","s":"v"},{"t":41.6,"v":-4.3,"k":"s","s":"K"},{"t":65.6,"v":0.9,"k":"m","s":"V"},{"t":67.0,"v":-0.65,"k":"s","s":"DC"}],
"T4a":[{"t":42.1,"v":1.72,"k":"m","s":"i"},{"t":42.7,"v":1.4,"k":"s","s":"DC"},{"t":23.3,"v":-4.02,"k":"c","s":"S- APF off"},{"t":83.0,"v":-4.02,"k":"c","s":"S- APF on"}],
"T4b":[{"t":41.1,"v":1.4,"k":"m","s":"i"},{"t":41.8,"v":1.15,"k":"s","s":"DC"},{"t":22.9,"v":-4.02,"k":"c","s":"S- APF off"},{"t":82.7,"v":-4.02,"k":"c","s":"S- APF on"}]
},
"hconcat":[
{"spacing":4,"bounds":"flush","vconcat":[
 {"width":525,"height":78,
  "encoding":{"x":{"field":"t","type":"quantitative","scale":{"domain":[0,120],"nice":false,"zero":false},"axis":{"values":[24,48,72,96],"title":null}},
   "y":{"field":"v","type":"quantitative","scale":{"domain":[-2,2],"nice":false,"zero":false},"axis":{"values":[-1,0,1],"title":null,"gridColor":{"condition":{"test":"datum.value===0","value":"#9a9a9a"},"value":"#cfcfcf"},"gridDash":{"condition":{"test":"datum.value===0","value":[]},"value":[2,2]}}}},
  "layer":[
   {"data":{"name":"E"},"mark":{"type":"line","interpolate":"monotone","color":"#666666","strokeWidth":1.4}},
   {"data":{"name":"IA"},"mark":{"type":"line","interpolate":"monotone","color":"#333333","strokeWidth":1.8}},
   {"data":{"name":"D1a"},"mark":{"type":"rule","color":"#111111","strokeWidth":1.5,"strokeDash":[6,4],"clip":false},"encoding":{"y2":{"field":"v2"}}},
   {"data":{"name":"T1a"},"transform":[{"filter":"datum.k==='m'"}],"mark":{"type":"text","fontStyle":"italic","fontSize":20,"align":"center","baseline":"middle","clip":false},"encoding":{"text":{"field":"s"}}},
   {"data":{"name":"T1a"},"transform":[{"filter":"datum.k==='s'"}],"mark":{"type":"text","fontStyle":"italic","fontSize":13,"align":"left","baseline":"middle","clip":false},"encoding":{"text":{"field":"s"}}},
   {"data":{"name":"T1a"},"transform":[{"filter":"datum.k==='r'"}],"mark":{"type":"text","fontStyle":"italic","fontSize":16,"align":"right","baseline":"middle","clip":false},"encoding":{"text":{"field":"s"}}},
   {"data":{"name":"T1a"},"transform":[{"filter":"datum.k==='b'"}],"mark":{"type":"text","fontStyle":"italic","fontSize":11,"align":"left","baseline":"middle","clip":false},"encoding":{"text":{"field":"s"}}},
   {"data":{"name":"T1a"},"transform":[{"filter":"datum.k==='u'"}],"mark":{"type":"text","fontSize":18,"align":"left","baseline":"middle","clip":false},"encoding":{"text":{"field":"s"}}},
   {"data":{"name":"T1a"},"transform":[{"filter":"datum.k==='h'"}],"mark":{"type":"text","fontSize":20,"align":"left","baseline":"middle","clip":false},"encoding":{"text":{"field":"s"}}}
  ]},
 {"width":525,"height":76,
  "encoding":{"x":{"field":"t","type":"quantitative","scale":{"domain":[0,120],"nice":false,"zero":false},"axis":{"values":[24,48,72,96],"title":null}},
   "y":{"field":"v","type":"quantitative","scale":{"domain":[-8.3,8.3],"nice":false,"zero":false},"axis":{"values":[-4.15,0,4.15],"title":null,"gridColor":{"condition":{"test":"datum.value===0","value":"#a8a8a8"},"value":"#cfcfcf"},"gridDash":{"condition":{"test":"datum.value===0","value":[]},"value":[2,2]}}}},
  "layer":[
   {"data":{"name":"K"},"mark":{"type":"line","interpolate":"step-after","color":"#555555","strokeWidth":1.3}},
   {"data":{"name":"SA"},"mark":{"type":"line","color":"#858585","strokeWidth":1.2}},
   {"data":{"name":"T2a"},"transform":[{"filter":"datum.k==='m'"}],"mark":{"type":"text","fontStyle":"italic","fontSize":20,"align":"center","baseline":"middle","clip":false},"encoding":{"text":{"field":"s"}}},
   {"data":{"name":"T2a"},"transform":[{"filter":"datum.k==='s'"}],"mark":{"type":"text","fontStyle":"italic","fontSize":13,"align":"left","baseline":"middle","clip":false},"encoding":{"text":{"field":"s"}}}
  ]},
 {"width":525,"height":77,
  "encoding":{"x":{"field":"t","type":"quantitative","scale":{"domain":[0,120],"nice":false,"zero":false},"axis":{"values":[24,48,72,96],"title":null}},
   "y":{"field":"v","type":"quantitative","scale":{"domain":[-10,10],"nice":false,"zero":false},"axis":{"values":[-5,0,5],"title":null}}},
  "layer":[
   {"data":{"name":"VD"},"mark":{"type":"line","color":"#444444","strokeWidth":1.6}},
   {"data":{"name":"K"},"mark":{"type":"line","interpolate":"step-after","color":"#555555","strokeWidth":1.3}},
   {"data":{"name":"T3a"},"transform":[{"filter":"datum.k==='m'"}],"mark":{"type":"text","fontStyle":"italic","fontSize":20,"align":"center","baseline":"middle","clip":false},"encoding":{"text":{"field":"s"}}},
   {"data":{"name":"T3a"},"transform":[{"filter":"datum.k==='s'"}],"mark":{"type":"text","fontStyle":"italic","fontSize":13,"align":"left","baseline":"middle","clip":false},"encoding":{"text":{"field":"s"}}}
  ]},
 {"width":525,"height":94,
  "encoding":{"x":{"field":"t","type":"quantitative","scale":{"domain":[0,120],"nice":false,"zero":false},"axis":{"values":[24,48,72,96],"title":null}},
   "y":{"field":"v","type":"quantitative","scale":{"domain":[-3,3],"nice":false,"zero":false},"axis":{"values":[-2,-1,0,1,2],"title":null,"gridColor":{"condition":{"test":"datum.value===0","value":"#9a9a9a"},"value":"#cfcfcf"},"gridDash":{"condition":{"test":"datum.value===0","value":[]},"value":[2,2]}}}},
  "layer":[
   {"data":{"name":"IDA"},"mark":{"type":"area","color":"#111111","opacity":1},"encoding":{"y2":{"field":"l"}}},
   {"data":{"name":"D4a"},"mark":{"type":"rule","color":"#111111","strokeWidth":1.5,"strokeDash":[6,4],"clip":false},"encoding":{"y2":{"field":"v2"}}},
   {"data":{"name":"LN"},"mark":{"type":"rule","color":"#8c8c8c","strokeWidth":1,"clip":false},"encoding":{"x2":{"field":"t2"}}},
   {"data":{"name":"ARa"},"transform":[{"filter":"datum.d==='r'"}],"mark":{"type":"point","shape":"triangle-right","filled":true,"size":40,"color":"#111111","opacity":1,"clip":false}},
   {"data":{"name":"ARa"},"transform":[{"filter":"datum.d==='l'"}],"mark":{"type":"point","shape":"triangle-left","filled":true,"size":40,"color":"#111111","opacity":1,"clip":false}},
   {"data":{"name":"T4a"},"transform":[{"filter":"datum.k==='m'"}],"mark":{"type":"text","fontStyle":"italic","fontSize":20,"align":"center","baseline":"middle","clip":false},"encoding":{"text":{"field":"s"}}},
   {"data":{"name":"T4a"},"transform":[{"filter":"datum.k==='s'"}],"mark":{"type":"text","fontStyle":"italic","fontSize":13,"align":"left","baseline":"middle","clip":false},"encoding":{"text":{"field":"s"}}},
   {"data":{"name":"T4a"},"transform":[{"filter":"datum.k==='c'"}],"mark":{"type":"text","fontSize":18,"align":"center","baseline":"middle","clip":false},"encoding":{"text":{"field":"s"}}}
  ]}
]},
{"spacing":4,"bounds":"flush","vconcat":[
 {"width":525,"height":78,
  "encoding":{"x":{"field":"t","type":"quantitative","scale":{"domain":[0,120],"nice":false,"zero":false},"axis":{"values":[24,48,72,96],"title":null}},
   "y":{"field":"v","type":"quantitative","scale":{"domain":[-2,2],"nice":false,"zero":false},"axis":{"values":[-1,0,1],"title":null,"gridColor":{"condition":{"test":"datum.value===0","value":"#9a9a9a"},"value":"#cfcfcf"},"gridDash":{"condition":{"test":"datum.value===0","value":[]},"value":[2,2]}}}},
  "layer":[
   {"data":{"name":"E"},"mark":{"type":"line","interpolate":"monotone","color":"#666666","strokeWidth":1.4}},
   {"data":{"name":"IB"},"mark":{"type":"line","interpolate":"monotone","color":"#333333","strokeWidth":1.8}},
   {"data":{"name":"D1b"},"mark":{"type":"rule","color":"#111111","strokeWidth":1.5,"strokeDash":[6,4],"clip":false},"encoding":{"y2":{"field":"v2"}}},
   {"data":{"name":"T1b"},"transform":[{"filter":"datum.k==='m'"}],"mark":{"type":"text","fontStyle":"italic","fontSize":20,"align":"center","baseline":"middle","clip":false},"encoding":{"text":{"field":"s"}}},
   {"data":{"name":"T1b"},"transform":[{"filter":"datum.k==='s'"}],"mark":{"type":"text","fontStyle":"italic","fontSize":13,"align":"left","baseline":"middle","clip":false},"encoding":{"text":{"field":"s"}}},
   {"data":{"name":"T1b"},"transform":[{"filter":"datum.k==='r'"}],"mark":{"type":"text","fontStyle":"italic","fontSize":16,"align":"right","baseline":"middle","clip":false},"encoding":{"text":{"field":"s"}}},
   {"data":{"name":"T1b"},"transform":[{"filter":"datum.k==='b'"}],"mark":{"type":"text","fontStyle":"italic","fontSize":11,"align":"left","baseline":"middle","clip":false},"encoding":{"text":{"field":"s"}}},
   {"data":{"name":"T1b"},"transform":[{"filter":"datum.k==='u'"}],"mark":{"type":"text","fontSize":18,"align":"left","baseline":"middle","clip":false},"encoding":{"text":{"field":"s"}}},
   {"data":{"name":"T1b"},"transform":[{"filter":"datum.k==='h'"}],"mark":{"type":"text","fontSize":20,"align":"left","baseline":"middle","clip":false},"encoding":{"text":{"field":"s"}}}
  ]},
 {"width":525,"height":76,
  "encoding":{"x":{"field":"t","type":"quantitative","scale":{"domain":[0,120],"nice":false,"zero":false},"axis":{"values":[24,48,72,96],"title":null}},
   "y":{"field":"v","type":"quantitative","scale":{"domain":[-8.3,8.3],"nice":false,"zero":false},"axis":{"values":[-4.15,0,4.15],"title":null,"gridColor":{"condition":{"test":"datum.value===0","value":"#a8a8a8"},"value":"#cfcfcf"},"gridDash":{"condition":{"test":"datum.value===0","value":[]},"value":[2,2]}}}},
  "layer":[
   {"data":{"name":"K"},"mark":{"type":"line","interpolate":"step-after","color":"#555555","strokeWidth":1.3}},
   {"data":{"name":"SB"},"mark":{"type":"line","color":"#858585","strokeWidth":1.2}},
   {"data":{"name":"D2b"},"mark":{"type":"rule","color":"#111111","strokeWidth":1.5,"strokeDash":[6,4],"clip":false},"encoding":{"y2":{"field":"v2"}}},
   {"data":{"name":"T2b"},"transform":[{"filter":"datum.k==='m'"}],"mark":{"type":"text","fontStyle":"italic","fontSize":20,"align":"center","baseline":"middle","clip":false},"encoding":{"text":{"field":"s"}}},
   {"data":{"name":"T2b"},"transform":[{"filter":"datum.k==='s'"}],"mark":{"type":"text","fontStyle":"italic","fontSize":13,"align":"left","baseline":"middle","clip":false},"encoding":{"text":{"field":"s"}}}
  ]},
 {"width":525,"height":77,
  "encoding":{"x":{"field":"t","type":"quantitative","scale":{"domain":[0,120],"nice":false,"zero":false},"axis":{"values":[24,48,72,96],"title":null}},
   "y":{"field":"v","type":"quantitative","scale":{"domain":[-10,10],"nice":false,"zero":false},"axis":{"values":[-5,0,5],"title":null}}},
  "layer":[
   {"data":{"name":"VD"},"mark":{"type":"line","color":"#444444","strokeWidth":1.6}},
   {"data":{"name":"K"},"mark":{"type":"line","interpolate":"step-after","color":"#555555","strokeWidth":1.3}},
   {"data":{"name":"D3b"},"mark":{"type":"rule","color":"#111111","strokeWidth":1.5,"strokeDash":[6,4],"clip":false},"encoding":{"y2":{"field":"v2"}}},
   {"data":{"name":"T3b"},"transform":[{"filter":"datum.k==='m'"}],"mark":{"type":"text","fontStyle":"italic","fontSize":20,"align":"center","baseline":"middle","clip":false},"encoding":{"text":{"field":"s"}}},
   {"data":{"name":"T3b"},"transform":[{"filter":"datum.k==='s'"}],"mark":{"type":"text","fontStyle":"italic","fontSize":13,"align":"left","baseline":"middle","clip":false},"encoding":{"text":{"field":"s"}}}
  ]},
 {"width":525,"height":94,
  "encoding":{"x":{"field":"t","type":"quantitative","scale":{"domain":[0,120],"nice":false,"zero":false},"axis":{"values":[24,48,72,96],"title":null}},
   "y":{"field":"v","type":"quantitative","scale":{"domain":[-3,3],"nice":false,"zero":false},"axis":{"values":[-2,-1,0,1,2],"title":null,"gridColor":{"condition":{"test":"datum.value===0","value":"#9a9a9a"},"value":"#cfcfcf"},"gridDash":{"condition":{"test":"datum.value===0","value":[]},"value":[2,2]}}}},
  "layer":[
   {"data":{"name":"IDB"},"mark":{"type":"area","color":"#111111","opacity":1},"encoding":{"y2":{"field":"l"}}},
   {"data":{"name":"D4b"},"mark":{"type":"rule","color":"#111111","strokeWidth":1.5,"strokeDash":[6,4],"clip":false},"encoding":{"y2":{"field":"v2"}}},
   {"data":{"name":"LN"},"mark":{"type":"rule","color":"#8c8c8c","strokeWidth":1,"clip":false},"encoding":{"x2":{"field":"t2"}}},
   {"data":{"name":"ARb"},"transform":[{"filter":"datum.d==='r'"}],"mark":{"type":"point","shape":"triangle-right","filled":true,"size":40,"color":"#111111","opacity":1,"clip":false}},
   {"data":{"name":"ARb"},"transform":[{"filter":"datum.d==='l'"}],"mark":{"type":"point","shape":"triangle-left","filled":true,"size":40,"color":"#111111","opacity":1,"clip":false}},
   {"data":{"name":"T4b"},"transform":[{"filter":"datum.k==='m'"}],"mark":{"type":"text","fontStyle":"italic","fontSize":20,"align":"center","baseline":"middle","clip":false},"encoding":{"text":{"field":"s"}}},
   {"data":{"name":"T4b"},"transform":[{"filter":"datum.k==='s'"}],"mark":{"type":"text","fontStyle":"italic","fontSize":13,"align":"left","baseline":"middle","clip":false},"encoding":{"text":{"field":"s"}}},
   {"data":{"name":"T4b"},"transform":[{"filter":"datum.k==='c'"}],"mark":{"type":"text","fontSize":18,"align":"center","baseline":"middle","clip":false},"encoding":{"text":{"field":"s"}}}
  ]}
]}
]
}
